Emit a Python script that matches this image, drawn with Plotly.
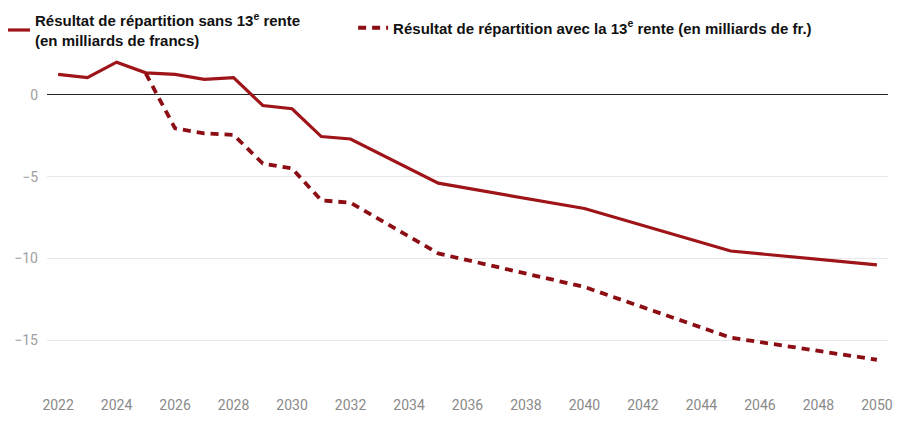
import plotly.graph_objects as go

years_sans = [2022, 2023, 2024, 2025, 2026, 2027, 2028, 2029, 2030, 2031, 2032, 2035, 2040, 2045, 2050]
values_sans = [1.25, 1.05, 2.0, 1.35, 1.25, 0.95, 1.05, -0.65, -0.85, -2.55, -2.7, -5.4, -6.95, -9.55, -10.4]

years_avec = [2025, 2026, 2027, 2028, 2029, 2030, 2031, 2032, 2035, 2040, 2045, 2050]
values_avec = [1.3, -2.05, -2.35, -2.45, -4.2, -4.5, -6.45, -6.6, -9.7, -11.75, -14.85, -16.2]

name_sans = "<b>Résultat de répartition sans 13<sup>e</sup> rente<br>(en milliards de francs)</b>"
name_avec = "<b>Résultat de répartition avec la 13<sup>e</sup> rente (en milliards de fr.)</b>"

x_ticks = list(range(2022, 2051, 2))
y_ticks = [0, -5, -10, -15]

color_sans = "#9e1418"
color_avec = "#8c0d14"
legend_font = dict(family="Liberation Sans, Arial", size=15, color="#111")

fig = go.Figure()
fig.add_trace(go.Scatter(x=years_sans, y=values_sans, mode="lines", name=name_sans,
                         legend="legend",
                         line=dict(color=color_sans, width=3.2)))
fig.add_trace(go.Scatter(x=years_avec, y=values_avec, mode="lines", name=name_avec,
                         legend="legend2",
                         line=dict(color=color_avec, width=3.8, dash="8px,6px")))

fig.update_layout(
    width=910, height=423,
    margin=dict(l=39, r=30, t=46, b=50, autoexpand=False),
    paper_bgcolor="white", plot_bgcolor="white",
    showlegend=True,
    legend=dict(x=-0.0618, xanchor="left", y=1.0734, yanchor="middle",
                font=legend_font, bgcolor="rgba(0,0,0,0)", valign="middle"),
    legend2=dict(x=0.364, xanchor="left", y=1.0795, yanchor="middle",
                 font=legend_font, bgcolor="rgba(0,0,0,0)", valign="middle"),
    xaxis=dict(range=[2021.62, 2050.38], tickvals=x_ticks, showgrid=False, zeroline=False,
               showline=False, ticks="", ticklabelstandoff=14, automargin=False,
               tickfont=dict(family="Roboto", size=14, color="#8a8a8a")),
    yaxis=dict(range=[-17.5, 2.5], tickvals=y_ticks, showgrid=True, gridcolor="#e8e8e8",
               gridwidth=1, zeroline=True, zerolinecolor="#222", zerolinewidth=1,
               ticks="", ticklabelstandoff=8, automargin=False,
               tickfont=dict(family="Roboto", size=14, color="#a0a0a0")),
)

fig.write_html("out.html")
